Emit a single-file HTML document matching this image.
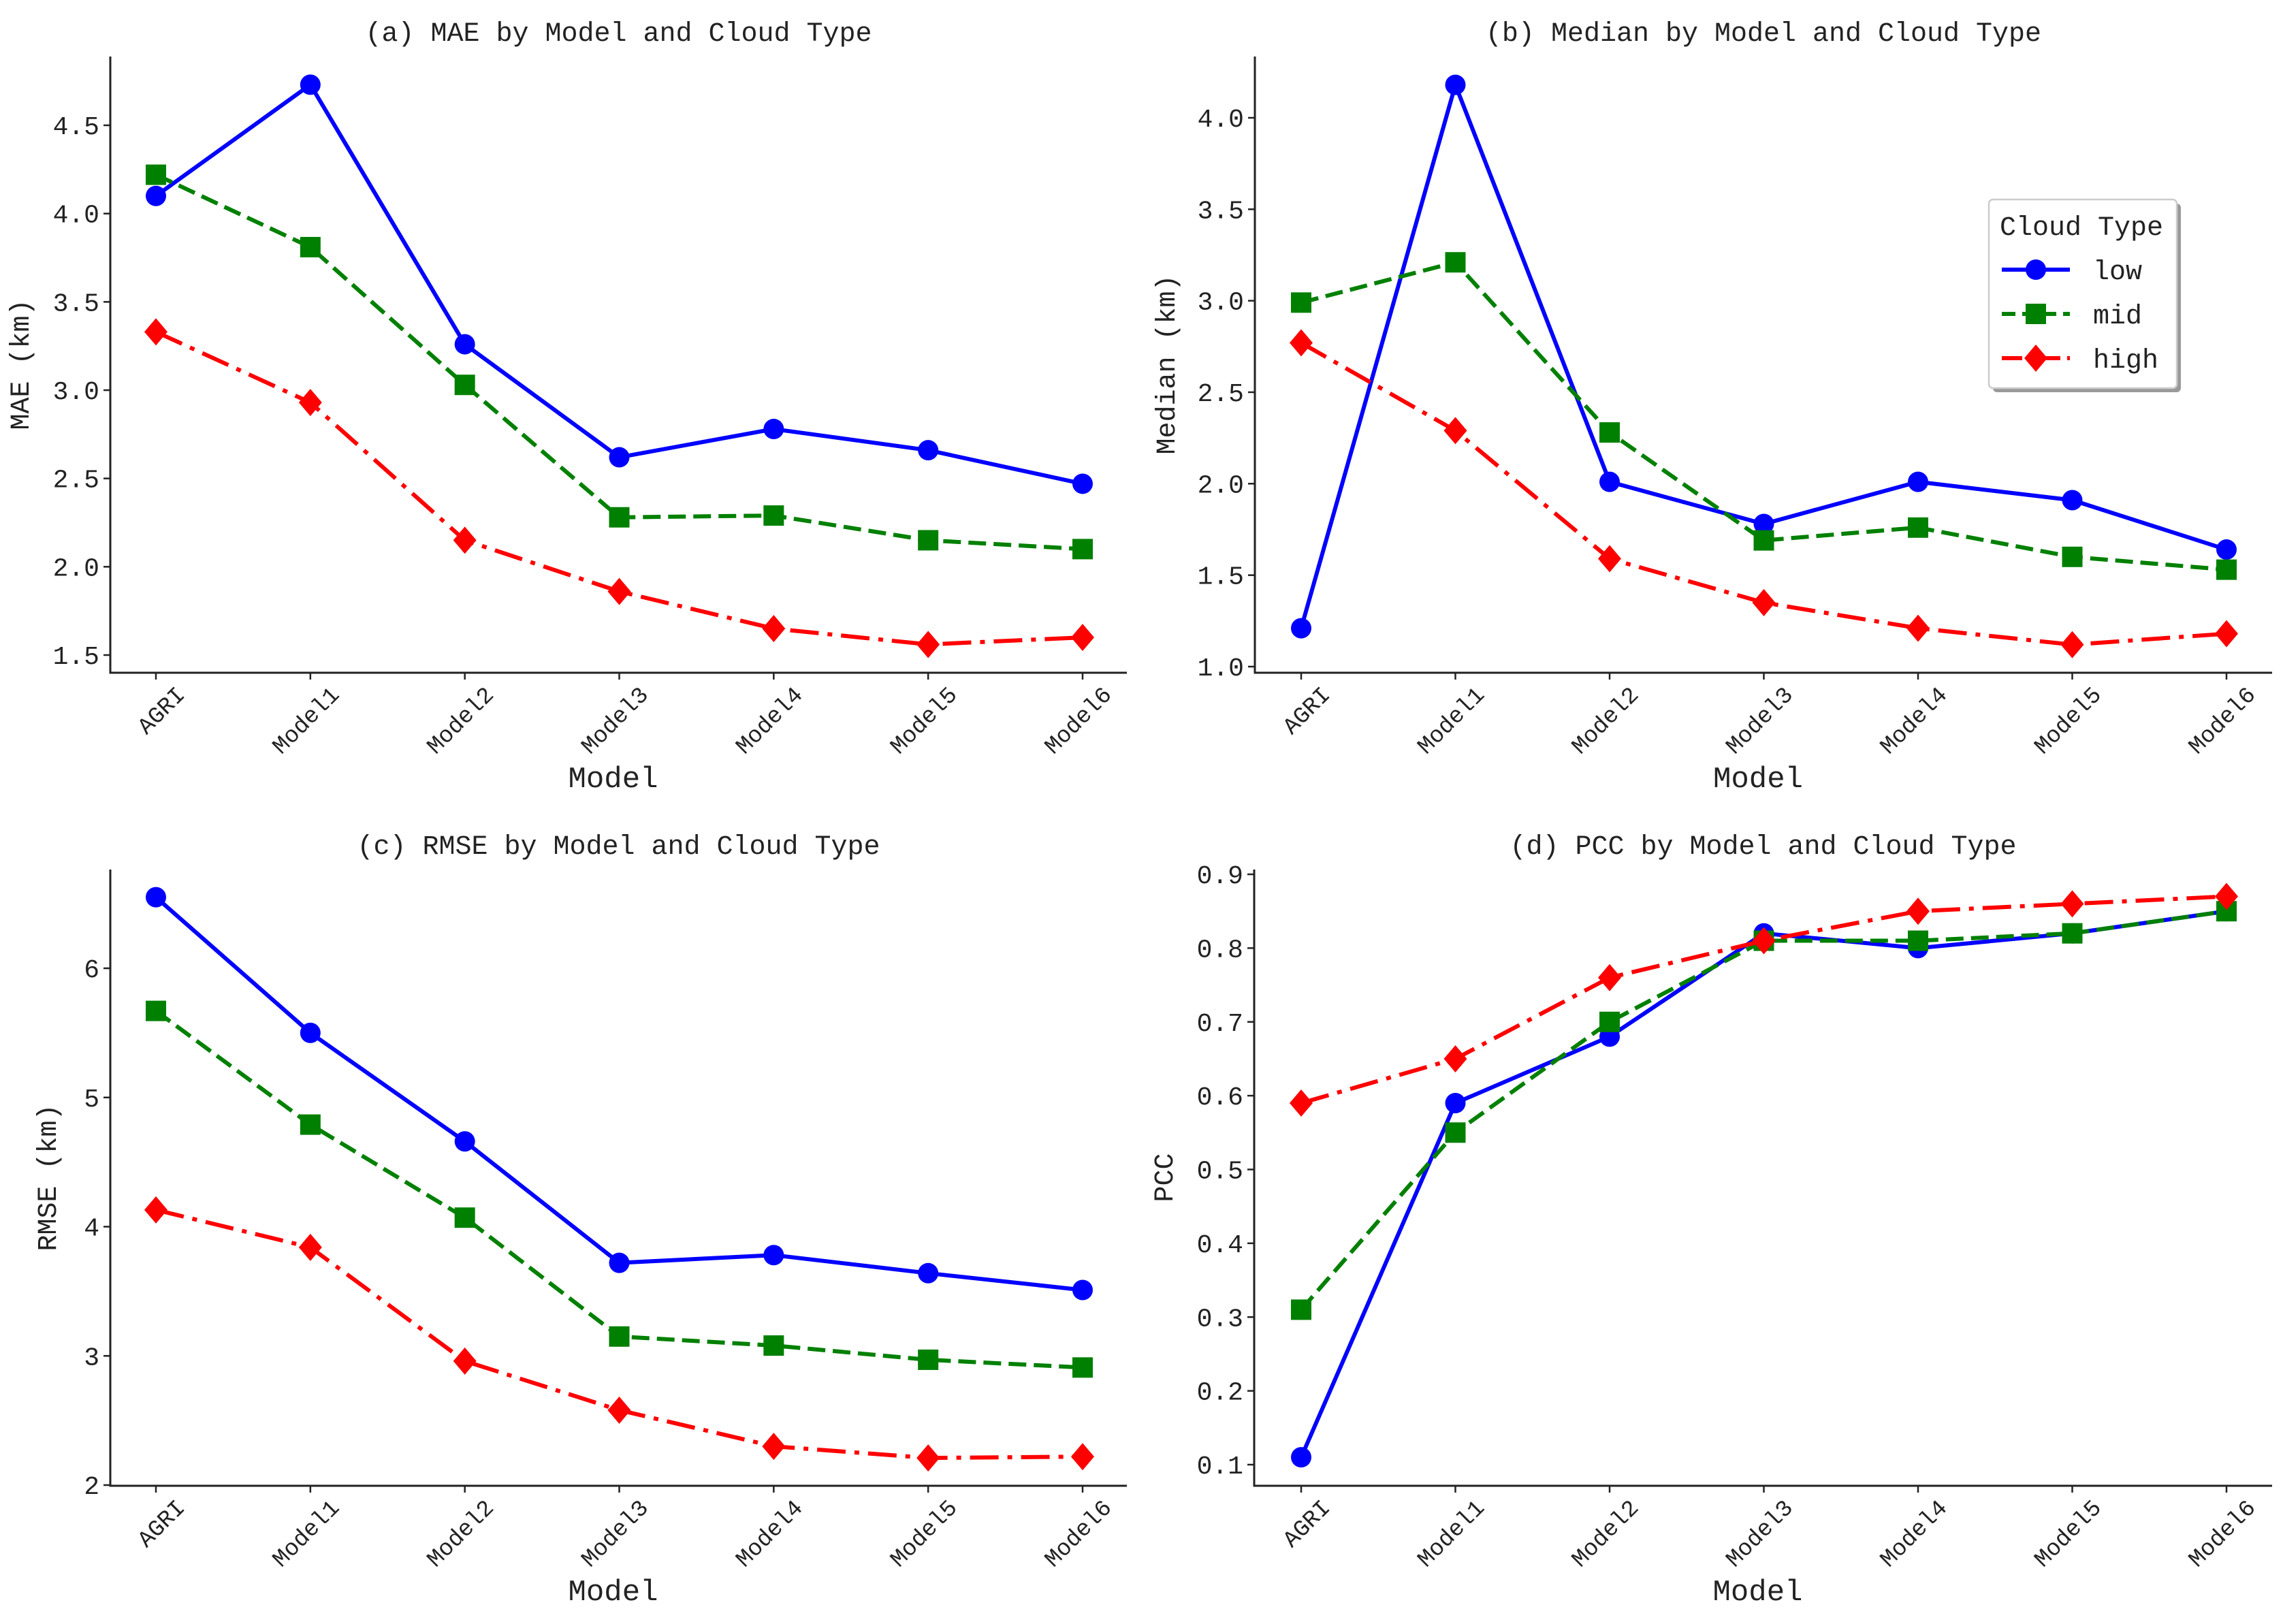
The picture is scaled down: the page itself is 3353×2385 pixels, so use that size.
<!DOCTYPE html>
<html><head><meta charset="utf-8">
<style>
html,body{margin:0;padding:0;background:#fff}
svg text{font-family:"Liberation Mono","Noto Serif CJK SC",monospace;fill:#222}
</style></head>
<body>
<svg id="fig" width="3353" height="2380" viewBox="0 0 3353 2380" xmlns="http://www.w3.org/2000/svg">
<rect width="3353" height="2380" fill="#fff"/>
</svg>
<script>
const categories = ["AGRI","Model1","Model2","Model3","Model4","Model5","Model6"];
const maeLow  = [4.10,4.73,3.26,2.62,2.78,2.66,2.47];
const maeMid  = [4.22,3.81,3.03,2.28,2.29,2.15,2.10];
const maeHigh = [3.33,2.93,2.15,1.86,1.65,1.56,1.60];
const medLow  = [1.21,4.18,2.01,1.78,2.01,1.91,1.64];
const medMid  = [2.99,3.21,2.28,1.69,1.76,1.60,1.53];
const medHigh = [2.77,2.29,1.59,1.35,1.21,1.12,1.18];
const rmseLow  = [6.55,5.50,4.66,3.72,3.78,3.64,3.51];
const rmseMid  = [5.67,4.79,4.07,3.15,3.08,2.97,2.91];
const rmseHigh = [4.13,3.84,2.96,2.58,2.30,2.21,2.22];
const pccLow  = [0.11,0.59,0.68,0.82,0.80,0.82,0.85];
const pccMid  = [0.31,0.55,0.70,0.81,0.81,0.82,0.85];
const pccHigh = [0.59,0.65,0.76,0.81,0.85,0.86,0.87];
const maeTicks = ["1.5","2.0","2.5","3.0","3.5","4.0","4.5"];
const medTicks = ["1.0","1.5","2.0","2.5","3.0","3.5","4.0"];
const rmseTicks = ["2","3","4","5","6"];
const pccTicks = ["0.1","0.2","0.3","0.4","0.5","0.6","0.7","0.8","0.9"];

const NS="http://www.w3.org/2000/svg";
const svg=document.getElementById('fig');
function mk(tag,attrs,parent){const e=document.createElementNS(NS,tag);for(const k in attrs)e.setAttribute(k,attrs[k]);(parent||svg).appendChild(e);return e;}

const panels=[
 {key:'mae',title:'(a) MAE by Model and Cloud Type',ylab:'MAE (km)',left:162,right:1655,top:83,bottom:988,x0:229,x1:1590,
  v0:1.5,p0:962,v1:4.5,p1:184,ticks:maeTicks,series:[maeLow,maeMid,maeHigh],titleY:60,ylabX:42},
 {key:'median',title:'(b) Median by Model and Cloud Type',ylab:'Median (km)',left:1843,right:3337,top:83,bottom:988,x0:1911,x1:3270,
  v0:1.0,p0:979,v1:4.0,p1:173,ticks:medTicks,series:[medLow,medMid,medHigh],titleY:60,ylabX:1725,legend:true},
 {key:'rmse',title:'(c) RMSE by Model and Cloud Type',ylab:'RMSE (km)',left:162,right:1655,top:1277,bottom:2182,x0:229,x1:1590,
  v0:2,p0:2181,v1:6,p1:1422,ticks:rmseTicks,series:[rmseLow,rmseMid,rmseHigh],titleY:1254,ylabX:82},
 {key:'pcc',title:'(d) PCC by Model and Cloud Type',ylab:'PCC',left:1842,right:3337,top:1277,bottom:2182,x0:1911,x1:3270,
  v0:0.1,p0:2151,v1:0.9,p1:1284,ticks:pccTicks,series:[pccLow,pccMid,pccHigh],titleY:1254,ylabX:1722}
];
const sNames=['low','mid','high'];
const colors=['#0000ff','#008000','#ff0000'];
const dashes=['none','26,11','42,13,7,13'];
const markers=['circle','square','diamond'];

function drawMarker(g,type,x,y,c){
  let m;
  if(type==='circle') m=mk('circle',{cx:x,cy:y,r:15,fill:c},g);
  else if(type==='square') m=mk('rect',{x:x-15,y:y-15,width:30,height:30,fill:c},g);
  else m=mk('polygon',{points:`${x},${y-20} ${x+17},${y} ${x},${y+20} ${x-17},${y}`,fill:c},g);
  return m;
}

panels.forEach(P=>{
  const g=mk('g',{});
  
  
  const xs=i=>P.x0+(P.x1-P.x0)*i/(categories.length-1);
  const ys=v=>P.p0+(v-P.v0)*(P.p1-P.p0)/(P.v1-P.v0);
  const t=mk('text',{x:(P.left+P.right)/2,y:P.titleY,'text-anchor':'middle','font-size':40},g);
  t.textContent=P.title;
  
  
  const ax=mk('path',{d:`M${P.left},${P.top}V${P.bottom}H${P.right}`,stroke:'#222','stroke-width':3,fill:'none'},g);
  
  
  P.ticks.forEach(lbl=>{
    const y=ys(parseFloat(lbl));
    mk('line',{x1:P.left-10,x2:P.left,y1:y,y2:y,stroke:'#222','stroke-width':2.5},g);
    const tt=mk('text',{x:P.left-16,y:y+13,'text-anchor':'end','font-size':38},g);
    tt.textContent=lbl;
    
    
  });
  categories.forEach((c,i)=>{
    const x=xs(i);
    mk('line',{x1:x,x2:x,y1:P.bottom,y2:P.bottom+10,stroke:'#222','stroke-width':2.5},g);
    const ax0=x+44, ay0=P.bottom+34;
    const tt=mk('text',{x:ax0,y:ay0,'text-anchor':'end','font-size':34,transform:`rotate(-45 ${ax0} ${ay0})`},g);
    tt.textContent=c;
    
    
  });
  const xl=mk('text',{x:(P.left+P.right)/2-8,y:P.bottom+168,'text-anchor':'middle','font-size':44},g);
  xl.textContent='Model';
  
  
  const ym=(P.top+P.bottom)/2;
  const yl=mk('text',{x:P.ylabX,y:ym,'text-anchor':'middle','font-size':40,transform:`rotate(-90 ${P.ylabX} ${ym})`},g);
  yl.textContent=P.ylab;
  
  
  P.series.forEach((arr,s)=>{
    const sg=mk('g',{},g);
    
    
    const pts=arr.map((v,i)=>xs(i)+','+ys(v)).join(' ');
    const pl=mk('polyline',{points:pts,fill:'none',stroke:colors[s],'stroke-width':6,'stroke-dasharray':dashes[s],'stroke-linejoin':'round'},sg);
    
    
    arr.forEach((v,i)=>{
      const m=drawMarker(sg,markers[s],xs(i),ys(v),colors[s]);
      
      
    });
  });
  if(P.legend){
    const lg=mk('g',{},g);
    
    
    mk('rect',{x:2927,y:299,width:276,height:277,rx:6,fill:'#999'},lg);
    mk('rect',{x:2921,y:293,width:276,height:277,rx:6,fill:'#fff',stroke:'#ccc','stroke-width':2.5},lg);
    const lt=mk('text',{x:2937,y:345,'font-size':40},lg);
    lt.textContent='Cloud Type';
    
    
    [396,461,526].forEach((y,s)=>{
      const e=mk('g',{},lg);
      
      
      mk('line',{x1:2940,x2:3040,y1:y,y2:y,stroke:colors[s],'stroke-width':6,'stroke-dasharray':dashes[s]==='none'?'none':(s===1?'20,10':'30,10,6,10')},e);
      drawMarker(e,markers[s],2990,y,colors[s]);
      const et=mk('text',{x:3074,y:y+14,'font-size':40},e);
      et.textContent=sNames[s];
    });
  }
});
</script>
</body></html>
